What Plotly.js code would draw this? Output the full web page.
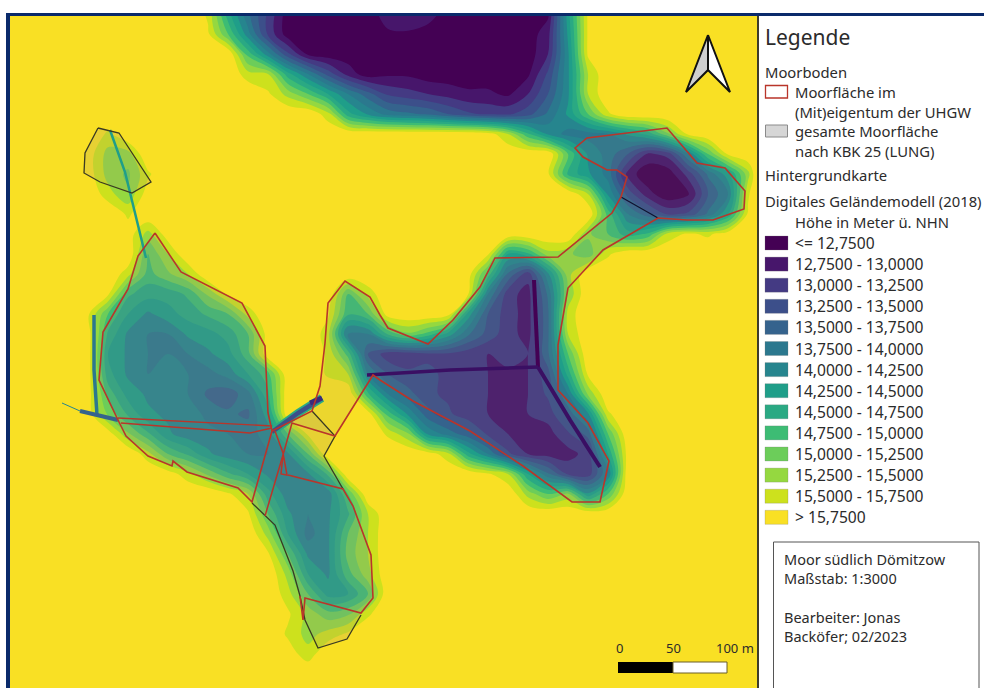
<!DOCTYPE html>
<html><head><meta charset="utf-8">
<script src="https://cdn.plot.ly/plotly-3.0.1.min.js"></script>
<style>html,body{margin:0;padding:0;background:#fff}#map{width:984px;height:688px}</style>
</head><body><div id="map"></div>
<script>
// Elevation samples (m above NHN)
const gridX = [8,28,48,68,88,108,128,148,168,188,208,228,248,268,288,308,328,348,368,388,408,428,448,468,488,508,528,548,568,588,608,628,648,668,688,708,728,748,757];
const gridY = [14,34,54,74,94,114,134,154,174,194,214,234,254,274,294,314,334,354,374,394,414,434,454,474,494,514,534,554,574,594,614,634,654,674,688];
const elevation = [
[16,16,16,16,16,16,16,16,16,16, 15.7,14.6,13.8,13.2,12.6,12.6,12.6,12.6,12.6,12.9, 13,12.9,12.6,12.6,12.6,12.6,12.6,12.7,14.4,15.8, 16,16,16,16,16,16,16,16,16],
[16,16,16,16,16,16,16,16,16,16, 15.8,15,14.1,13.2,12.6,12.6,12.6,12.6,12.6,12.7, 12.7,12.6,12.6,12.6,12.6,12.6,12.6,12.9,14.3,15.8, 16,16,16,16,16,16,16,16,16],
[16,16,16,16,16,16,16,16,16,16, 16,16,14.9,14.1,13.3,12.7,12.6,12.6,12.6,12.6, 12.6,12.6,12.6,12.6,12.6,12.6,12.6,13,14.2,15.8, 16,16,16,16,16,16,16,16,16],
[16,16,16,16,16,16,16,16,16,16, 16,16,15.6,15.5,14.6,14,13.4,12.9,12.6,12.7, 12.7,12.6,12.6,12.6,12.6,12.6,12.7,13.3,14.2,15.5, 16,16,16,16,16,16,16,16,16],
[16,16,16,16,16,16,16,16,16,16, 16,16,16,15.8,15.4,15,14.5,14,13.6,13.2, 13.1,13,12.9,12.8,12.8,12.7,13,13.5,14.2,15.5, 16,16,16,16,16,16,16,16,16],
[16,16,16,16,16,16,16,16,16,16, 16,16,16,16,16,16,15.6,14.6,14.2,13.9, 13.8,13.7,13.5,13.3,13.2,13.2,13.4,13.8,14.3,15, 15.7,16,16,16,16,16,16,16,16],
[16,16,16,16,16,15.7,16,16,16,16, 16,16,16,16,16,16,16,16,16,16, 16,16,16,16,15.9,15.5,14.8,14.2,13.9,13.9, 14,14.3,14.6,15.2,15.8,16,16,16,16],
[16,16,16,16,15.9,15.4,15.4,16,16,16, 16,16,16,16,16,16,16,16,16,16, 16,16,16,16,16,16,16,16,15,14.2, 13.9,13.5,12.95,13.1,14,15,15.8,16,16],
[16,16,16,16,15.9,15.4,15.2,15.7,16,16, 16,16,16,16,16,16,16,16,16,16, 16,16,16,16,16,16,16,15.8,14.7,14.3, 13.9,12.9,12.55,12.6,13.1,13.8,14.4,15.4,16],
[16,16,16,16,16,15.6,15.3,15.9,16,16, 16,16,16,16,16,16,16,16,16,16, 16,16,16,16,16,16,16,16,16,15.5, 14.2,13.4,12.85,12.55,12.7,13.5,14,15.7,16],
[16,16,16,16,16,16,15.7,16,16,16, 16,16,16,16,16,16,16,16,16,16, 16,16,16,16,16,16,16,16,16,16, 14.9,14,13.6,13.2,13.3,13.8,14.5,15.8,16],
[16,16,16,16,16,16,15.9,15.4,15.9,16, 16,16,16,16,16,16,16,16,16,16, 16,16,16,16,16,16,16,16,16,15.3, 15,14.6,14.8,15.6,15.8,15.7,15.9,16,16],
[16,16,16,16,16,16,16,15,15.5,16, 16,16,16,16,16,16,16,16,16,16, 16,16,16,16,15.8,14.5,14.7,15.4,15.3,15.1, 15.7,16,16,16,16,16,16,16,16],
[16,16,16,16,16,16,15.6,14.9,15.2,15.5, 16,16,16,16,16,16,16,16,16,16, 16,16,16,15.9,14.9,13.7,13.1,14.2,15.4,16, 16,16,16,16,16,16,16,16,16],
[16,16,16,16,16,15.8,14.8,14.6,14.6,14.8, 15.3,15.8,16,16,16,16,16,15,15.6,16, 16,16,16,15.8,14,13.1,12.9,13.8,15.3,16, 16,16,16,16,16,16,16,16,16],
[16,16,16,16,15.8,15,14.5,14.2,14.4,14.6, 14.8,15,15.6,16,16,16,15.8,14.8,15,15.9, 16,16,15.9,14.4,13.5,13.1,12.9,13.7,15.6,16, 16,16,16,16,16,16,16,16,16],
[16,16,16,16,15.9,14.7,14.2,14,14,14.3, 14.4,14.6,15,15.9,16,16,15.6,13.9,14,14.8, 15.2,14.9,14.4,13.8,13.4,13.1,12.9,13.7,15.5,16, 16,16,16,16,16,16,16,16,16],
[16,16,16,16,15.9,14.5,14.2,14,14,14, 14.2,14.4,14.9,16,16,16,15.7,14.9,13.5,13.1, 13.1,13.2,13.2,13.1,13,13.2,13,13.7,15,16, 16,16,16,16,16,16,16,16,16],
[16,16,16,16,15.9,14.6,14.2,14,14.1,14, 13.9,14.1,14.5,14.9,16,16,15.7,15.5,14,13.5, 13.3,13.3,13.2,13.2,13,12.9,13,13.4,14.6,15.8, 16,16,16,16,16,16,16,16,16],
[16,16,16,16,15.9,14.9,14.4,14.2,14.2,14, 13.7,13.6,13.9,14.7,16,16,16,16,14.8,14, 13.6,13.3,13.2,13.1,13,13,13,13.3,14,15.3, 16,16,16,16,16,16,16,16,16],
[16,16,16,16,15.9,15.2,14.7,14.3,14.2,14.2, 13.9,13.8,13.7,14.4,16,16,16,16,15.9,14.9, 14.2,13.6,13.3,13.1,13,13,13,13.1,13.6,14.2, 15.7,16,16,16,16,16,16,16,16],
[16,16,16,16,16,15.9,15.3,14.8,14.3,14.1, 14.1,14,13.9,14.1,15,15.8,16,16,16,15.7, 15.3,14.2,13.9,13.6,13.2,13,12.9,12.9,13.2,13.6, 15,16,16,16,16,16,16,16,16],
[16,16,16,16,16,16,16,15.6,15,14.7, 14.3,14.1,14,14,14.2,15,16,16,16,16, 16,15.9,15.6,14.6,14,13.3,13,12.9,12.9,13.1, 14.5,15.9,16,16,16,16,16,16,16],
[16,16,16,16,16,16,16,16,15.9,15.6, 15.2,14.8,14.5,14.2,14.1,14.2,14.8,16,16,16, 16,16,16,16,15.8,15.5,14.5,13.8,13.2,13.1, 14,16,16,16,16,16,16,16,16],
[16,16,16,16,16,16,16,16,16,16, 16,15.8,15.5,14.6,14.1,14,14.1,15,16,16, 16,16,16,16,16,16,15.4,15,15.3,14.3, 15,16,16,16,16,16,16,16,16],
[16,16,16,16,16,16,16,16,16,16, 16,16,15.8,15,14.3,14,14.2,14.7,15.5,16, 16,16,16,16,16,16,16,16,16,16, 16,16,16,16,16,16,16,16,16],
[16,16,16,16,16,16,16,16,16,16, 16,16,16,15.4,14.5,13.9,14.2,15,15.5,16, 16,16,16,16,16,16,16,16,16,16, 16,16,16,16,16,16,16,16,16],
[16,16,16,16,16,16,16,16,16,16, 16,16,16,15.8,15,14.2,14.2,15.1,15.5,16, 16,16,16,16,16,16,16,16,16,16, 16,16,16,16,16,16,16,16,16],
[16,16,16,16,16,16,16,16,16,16, 16,16,16,16,15.4,14.5,14.2,14.9,15.4,16, 16,16,16,16,16,16,16,16,16,16, 16,16,16,16,16,16,16,16,16],
[16,16,16,16,16,16,16,16,16,16, 16,16,16,16,15.6,15,14.4,14.5,15,16, 16,16,16,16,16,16,16,16,16,16, 16,16,16,16,16,16,16,16,16],
[16,16,16,16,16,16,16,16,16,16, 16,16,16,16,15.8,15.4,15.1,15.2,15.7,16, 16,16,16,16,16,16,16,16,16,16, 16,16,16,16,16,16,16,16,16],
[16,16,16,16,16,16,16,16,16,16, 16,16,16,16,15.7,15.4,15.6,15.8,16,16, 16,16,16,16,16,16,16,16,16,16, 16,16,16,16,16,16,16,16,16],
[16,16,16,16,16,16,16,16,16,16, 16,16,16,16,15.9,15.6,16,16,16,16, 16,16,16,16,16,16,16,16,16,16, 16,16,16,16,16,16,16,16,16],
[16,16,16,16,16,16,16,16,16,16, 16,16,16,16,16,16,16,16,16,16, 16,16,16,16,16,16,16,16,16,16, 16,16,16,16,16,16,16,16,16],
[16,16,16,16,16,16,16,16,16,16, 16,16,16,16,16,16,16,16,16,16, 16,16,16,16,16,16,16,16,16,16, 16,16,16,16,16,16,16,16,16]
];

const bandLabels = ["<= 12,7500","12,7500 - 13,0000","13,0000 - 13,2500","13,2500 - 13,5000","13,5000 - 13,7500","13,7500 - 14,0000","14,0000 - 14,2500","14,2500 - 14,5000","14,5000 - 14,7500","14,7500 - 15,0000","15,0000 - 15,2500","15,2500 - 15,5000","15,5000 - 15,7500","> 15,7500"];
const bandColors = ["#440154","#47166b","#443a83","#3c4f8a","#35638d","#2b788e","#26858e","#1f9e89","#2aa983","#3dbc74","#6ccd5a","#95d840","#cde11d","#f9e024"];

// Outlines of the moor areas
const moorNW = [[98,128],[119,133],[151,182],[132,193],[100,182],[84,173],[85,153],[98,128]];
const moorWest = [[155,233],[181,272],[242,303],[265,346],[268,413],[272,431],[252,502],[238,488],[187,472],[173,461],[172,466],[148,456],[126,436],[118,420],[99,380],[103,332],[128,289],[138,256],[155,233]];
const stripNorth = [[118,418],[272,426]];
const stripSouth = [[121,423],[250,433],[272,428]];
const moorEast = [[295,424],[335,436],[373,375],[380,380],[413,401],[470,431],[523,466],[572,502],[600,502],[609,461],[588,423],[558,390],[558,345],[568,288],[603,250],[658,218],[687,220],[713,220],[744,209],[745,191],[725,168],[697,163],[667,128],[587,138],[575,148],[583,157],[607,170],[617,170],[627,177],[621,197],[612,213],[558,257],[495,258],[480,287],[453,320],[428,344],[388,328],[380,315],[370,297],[345,281],[328,303],[325,343],[320,386],[312,411],[272,431]];
const centreCross = [[275,431],[283,453],[287,475],[281,474],[283,455],[292,423],[295,424]];
const centreLeg = [[265,516],[283,455]];
const southRed = [[288,475],[343,489],[353,506],[371,555],[373,598],[361,613],[305,598],[303,620],[300,596]];
const southBlack = [[252,503],[275,525],[293,571],[300,596],[305,620],[318,648],[347,639],[361,615]];
const blackNotch = [[343,489],[324,456],[335,436],[312,411]];
const blackCut = [[621,197],[658,218]];
const moorSouthArea = [[252,502],[272,431],[312,411],[335,436],[324,456],[343,489],[353,506],[371,555],[373,598],[361,615],[347,639],[318,648],[305,620],[300,596],[293,571],[275,525],[252,502]];

// Narrow drainage ditches in the terrain model
const ditches = [
 {path:[[534,280],[536,320],[538,367]], color:"#440154", width:4},
 {path:[[367,375],[450,370],[538,367]], color:"#3a0f63", width:3.5},
 {path:[[538,367],[570,420],[600,467]], color:"#3a0f63", width:4},
 {path:[[94,315],[94,370],[97,415]], color:"#2b788e", width:3.5},
 {path:[[62,403],[80,411]], color:"#26858e", width:1},
 {path:[[80,411],[100,416],[118,420]], color:"#35638d", width:4},
 {path:[[110,130],[125,172],[146,258]], color:"#1f9e89", width:2.5},
 {path:[[272,432],[298,413],[322,398]], color:"#2aa983", width:8},
 {path:[[272,432],[298,413],[322,398]], color:"#3c4f8a", width:4.5},
 {path:[[310,403],[322,398]], color:"#3a2a7a", width:5}
];

const northArrowLeft = [[708,35],[686,92],[708,70],[708,35]];
const northArrowRight = [[708,35],[730,92],[708,70],[708,35]];

const scaleLabels = ["0","50","100 m"];
const infoLines = ["Moor südlich Dömitzow","Maßstab: 1:3000","","Bearbeiter: Jonas","Backöfer; 02/2023"];

const RED = "#b9352a", DARK = "#3a3a22", HAZE = "rgba(140,135,130,0.17)", HAZE_EAST = "rgba(140,135,130,0.11)";
const xs = p => p.map(q => q[0]), ys = p => p.map(q => q[1]);
const line = (p, color, width) => ({type:"scatter", mode:"lines", x:xs(p), y:ys(p), line:{color, width}, hoverinfo:"skip", showlegend:false});
const area = (p, fillcolor) => ({type:"scatter", mode:"lines", x:xs(p), y:ys(p), fill:"toself", fillcolor, line:{width:0}, hoverinfo:"skip", showlegend:false});

const traces = [
 {type:"contour", x:gridX, y:gridY, z:elevation, autocontour:false, showscale:false, hoverinfo:"skip",
  contours:{start:12.75, end:15.75, size:0.25, coloring:"fill", showlines:false},
  line:{width:0, smoothing:1},
  colorscale:bandColors.map((c,i)=>[i/(bandColors.length-1),c])},
 area(moorNW,HAZE), area(moorWest,HAZE), area(moorEast,HAZE_EAST), area(moorSouthArea,HAZE),
 ...ditches.map(d=>line(d.path,d.color,d.width)),
 line(moorNW,DARK,1.3), line(southBlack,DARK,1.3), line(blackNotch,DARK,1.3), line(blackCut,"#101030",1.2),
 line(moorWest,RED,1.6), line(stripNorth,RED,1.4), line(stripSouth,RED,1.4), line(moorEast,RED,1.6),
 line(centreCross,RED,1.5), line(centreLeg,RED,1.5), line(southRed,RED,1.6),
 {type:"scatter",mode:"lines",x:xs(northArrowLeft),y:ys(northArrowLeft),fill:"toself",fillcolor:"#cfcfcf",line:{color:"#111",width:2},hoverinfo:"skip",showlegend:false},
 {type:"scatter",mode:"lines",x:xs(northArrowRight),y:ys(northArrowRight),fill:"toself",fillcolor:"#ffffff",line:{color:"#111",width:2},hoverinfo:"skip",showlegend:false}
];

const rect = (x0,y0,x1,y1,fill,lc,lw,layer) => ({type:"rect",xref:"x",yref:"y",x0,y0,x1,y1,fillcolor:fill,line:{color:lc||fill,width:lw===undefined?0:lw},layer:layer||"above"});
const FONT = "Noto Sans";
const txt = (x,y,text,size,anchor) => ({x:anchor?x:x-2,y,xref:"x",yref:"y",text,showarrow:false,xanchor:anchor||"left",yanchor:"middle",align:"left",font:{family:FONT,size:size||14.8,color:"#2b2b2b"}});

const rowY = i => 243 + 21.1*i;
const shapes = [
 rect(9,14,757,688,bandColors[13],null,0,"below"),
 rect(6,13,984,16,"#0a2a6b"),
 rect(6,13,10,688,"#0a2a6b"),
 rect(757,16,759,688,"#3c3c2c"),
 rect(765.5,85.5,787.5,98,"#ffffff",RED,1.3),
 rect(765.5,125,787.5,137,"#d6d6d6","#8a8a8a",1),
 ...bandColors.map((c,i)=>rect(765,rowY(i)-7,788,rowY(i)+7,c,"rgba(120,120,120,.5)",0.5)),
 rect(773.5,542,979,690,"#ffffff","#555",1),
 rect(618,662,673,673,"#000000"),
 rect(673,662,727,673,"#ffffff","#6b5f2a",1)
];
const annotations = [
 txt(765,37,"Legende",21),
 txt(765,72,"Moorboden"),
 txt(795,92,"Moorfläche im"),
 txt(795,112,"(Mit)eigentum der UHGW"),
 txt(795,131,"gesamte Moorfläche"),
 txt(795,151,"nach KBK 25 (LUNG)"),
 txt(765,175,"Hintergrundkarte"),
 txt(765,201,"Digitales Geländemodell (2018)"),
 txt(795,222,"Höhe in Meter ü. NHN"),
 ...bandLabels.map((t,i)=>txt(795,rowY(i),t,15.6)),
 ...infoLines.map((t,i)=>t?txt(784,559+19.2*i,t,14.5):null).filter(Boolean),
 txt(619,648,scaleLabels[0],13,"center"),
 txt(673,648,scaleLabels[1],13,"center"),
 txt(735,648,scaleLabels[2],13,"center")
];

const axis = {visible:false, showgrid:false, zeroline:false, fixedrange:true};
Plotly.newPlot("map", traces, {
 width:984, height:688, margin:{l:0,r:0,t:0,b:0,pad:0},
 paper_bgcolor:"#fff", plot_bgcolor:"#fff", showlegend:false,
 xaxis:{...axis, range:[0,984]}, yaxis:{...axis, range:[688,0]},
 shapes, annotations
}, {staticPlot:true, displayModeBar:false});
</script></body></html>
